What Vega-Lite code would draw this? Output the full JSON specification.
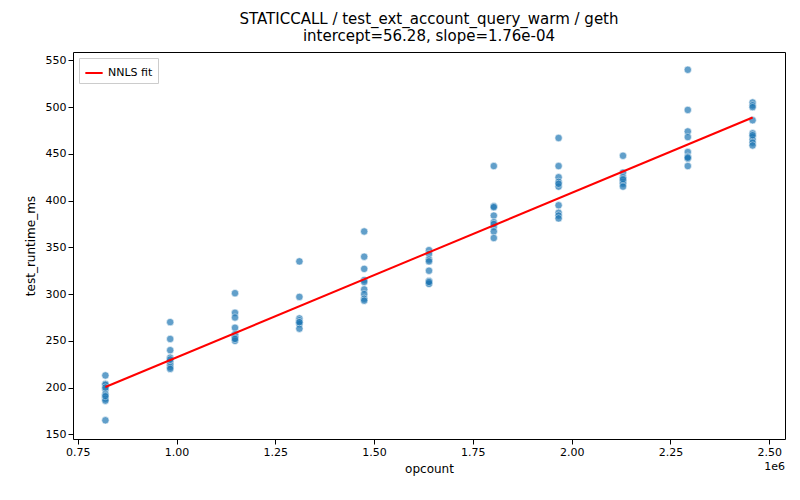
{
  "$schema": "https://vega.github.io/schema/vega-lite/v6.json",
  "width": 800,
  "height": 500,
  "autosize": {"type": "fit", "contains": "padding"},
  "padding": {"left": 24, "right": 15, "top": 12, "bottom": 26},
  "config": {
    "font": "DejaVu Sans",
    "view": {"stroke": "black"},
    "axis": {"grid": false, "domain": false, "tickColor": "black", "labelColor": "black", "labelFontSize": 11, "titleFontSize": 12, "titleFontWeight": "normal", "titleColor": "black"}
  },
  "title": {"text": ["STATICCALL / test_ext_account_query_warm / geth", "intercept=56.28, slope=1.76e-04"], "fontSize": 15, "fontWeight": "normal", "color": "black", "offset": 8},
  "datasets": {
    "pts": [
      {"opcount": 820000, "ms": 213}, {"opcount": 820000, "ms": 204}, {"opcount": 820000, "ms": 203}, {"opcount": 820000, "ms": 198}, {"opcount": 820000, "ms": 193}, {"opcount": 820000, "ms": 190}, {"opcount": 820000, "ms": 188}, {"opcount": 820000, "ms": 186}, {"opcount": 820000, "ms": 165}, {"opcount": 820000, "ms": 191}, {"opcount": 820000, "ms": 200},
      {"opcount": 984000, "ms": 270}, {"opcount": 984000, "ms": 252}, {"opcount": 984000, "ms": 240}, {"opcount": 984000, "ms": 232}, {"opcount": 984000, "ms": 228}, {"opcount": 984000, "ms": 225}, {"opcount": 984000, "ms": 222}, {"opcount": 984000, "ms": 220}, {"opcount": 984000, "ms": 230},
      {"opcount": 1148000, "ms": 301}, {"opcount": 1148000, "ms": 280}, {"opcount": 1148000, "ms": 275}, {"opcount": 1148000, "ms": 264}, {"opcount": 1148000, "ms": 257}, {"opcount": 1148000, "ms": 255}, {"opcount": 1148000, "ms": 253}, {"opcount": 1148000, "ms": 250}, {"opcount": 1148000, "ms": 252},
      {"opcount": 1311000, "ms": 335}, {"opcount": 1311000, "ms": 297}, {"opcount": 1311000, "ms": 274}, {"opcount": 1311000, "ms": 272}, {"opcount": 1311000, "ms": 270}, {"opcount": 1311000, "ms": 268}, {"opcount": 1311000, "ms": 263}, {"opcount": 1311000, "ms": 270},
      {"opcount": 1475000, "ms": 367}, {"opcount": 1475000, "ms": 340}, {"opcount": 1475000, "ms": 327}, {"opcount": 1475000, "ms": 315}, {"opcount": 1475000, "ms": 305}, {"opcount": 1475000, "ms": 300}, {"opcount": 1475000, "ms": 295}, {"opcount": 1475000, "ms": 293}, {"opcount": 1475000, "ms": 313},
      {"opcount": 1639000, "ms": 347}, {"opcount": 1639000, "ms": 343}, {"opcount": 1639000, "ms": 337}, {"opcount": 1639000, "ms": 335}, {"opcount": 1639000, "ms": 325}, {"opcount": 1639000, "ms": 314}, {"opcount": 1639000, "ms": 312}, {"opcount": 1639000, "ms": 311}, {"opcount": 1639000, "ms": 313},
      {"opcount": 1803000, "ms": 437}, {"opcount": 1803000, "ms": 394}, {"opcount": 1803000, "ms": 393}, {"opcount": 1803000, "ms": 384}, {"opcount": 1803000, "ms": 377}, {"opcount": 1803000, "ms": 372}, {"opcount": 1803000, "ms": 367}, {"opcount": 1803000, "ms": 360}, {"opcount": 1803000, "ms": 375},
      {"opcount": 1967000, "ms": 467}, {"opcount": 1967000, "ms": 437}, {"opcount": 1967000, "ms": 425}, {"opcount": 1967000, "ms": 420}, {"opcount": 1967000, "ms": 415}, {"opcount": 1967000, "ms": 395}, {"opcount": 1967000, "ms": 387}, {"opcount": 1967000, "ms": 384}, {"opcount": 1967000, "ms": 381}, {"opcount": 1967000, "ms": 418},
      {"opcount": 2130000, "ms": 448}, {"opcount": 2130000, "ms": 430}, {"opcount": 2130000, "ms": 425}, {"opcount": 2130000, "ms": 422}, {"opcount": 2130000, "ms": 420}, {"opcount": 2130000, "ms": 418}, {"opcount": 2130000, "ms": 415}, {"opcount": 2130000, "ms": 423},
      {"opcount": 2294000, "ms": 540}, {"opcount": 2294000, "ms": 497}, {"opcount": 2294000, "ms": 474}, {"opcount": 2294000, "ms": 468}, {"opcount": 2294000, "ms": 452}, {"opcount": 2294000, "ms": 447}, {"opcount": 2294000, "ms": 445}, {"opcount": 2294000, "ms": 437}, {"opcount": 2294000, "ms": 446},
      {"opcount": 2458000, "ms": 505}, {"opcount": 2458000, "ms": 502}, {"opcount": 2458000, "ms": 500}, {"opcount": 2458000, "ms": 486}, {"opcount": 2458000, "ms": 472}, {"opcount": 2458000, "ms": 468}, {"opcount": 2458000, "ms": 465}, {"opcount": 2458000, "ms": 462}, {"opcount": 2458000, "ms": 459}, {"opcount": 2458000, "ms": 470}
    ],
    "fit": [
      {"opcount": 820000, "ms": 200.6, "series": "NNLS fit"},
      {"opcount": 2458000, "ms": 488.9, "series": "NNLS fit"}
    ]
  },
  "layer": [
    {
      "data": {"name": "pts"},
      "mark": {"type": "point", "filled": true, "size": 55, "color": "#1f77b4", "opacity": 0.7, "stroke": "white", "strokeWidth": 0.6},
      "encoding": {
        "x": {"field": "opcount", "type": "quantitative", "title": "opcount", "scale": {"domain": [738000, 2540000], "nice": false, "zero": false},
          "axis": {"values": [750000, 1000000, 1250000, 1500000, 1750000, 2000000, 2250000, 2500000], "labelExpr": "format(datum.value / 1e6, '.2f')", "titlePadding": 6}},
        "y": {"field": "ms", "type": "quantitative", "title": "test_runtime_ms", "scale": {"domain": [145, 559], "nice": false, "zero": false},
          "axis": {"values": [150, 200, 250, 300, 350, 400, 450, 500, 550], "titlePadding": 8}}
      }
    },
    {
      "data": {"name": "fit"},
      "mark": {"type": "line", "strokeWidth": 2},
      "encoding": {
        "x": {"field": "opcount", "type": "quantitative"},
        "y": {"field": "ms", "type": "quantitative"},
        "color": {"field": "series", "type": "nominal", "scale": {"range": ["red"]},
          "legend": {"title": null, "orient": "top-left", "offset": 6, "symbolType": "stroke", "symbolStrokeWidth": 2, "labelFontSize": 11, "strokeColor": "#cccccc", "padding": 5, "fillColor": "white", "symbolSize": 300}}
      }
    },
    {
      "data": {"values": [{"t": "1e6"}]},
      "mark": {"type": "text", "align": "right", "baseline": "top", "fontSize": 11, "dy": 22},
      "encoding": {
        "text": {"field": "t"},
        "x": {"datum": 2540000, "type": "quantitative"},
        "y": {"datum": 145, "type": "quantitative"}
      }
    }
  ]
}
